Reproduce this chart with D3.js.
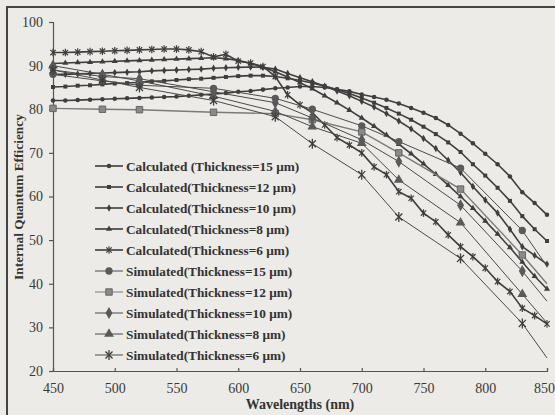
<!DOCTYPE html>
<html>
<head>
<meta charset="utf-8">
<script src="https://cdn.jsdelivr.net/npm/d3@7"></script>
<style>
  body { margin: 0; background: #ecebe7; }
  svg { display: block; font-family: 'Liberation Serif', 'DejaVu Serif', serif; }
</style>
</head>
<body>
<svg id="chart" width="555" height="415"></svg>
<script>
// DATA
const calcWave = d3.range(450, 851, 10);
const simWave = [450, 490, 520, 580, 630, 660, 700, 730, 780, 830, 850];

const calc15 = [82.0, 82.0, 82.1, 82.2, 82.3, 82.4, 82.5, 82.6, 82.7, 82.8, 82.9, 83.1, 83.3, 83.5, 83.7, 84.0, 84.2, 84.5, 84.8, 85.0, 85.2, 85.2, 85.0, 84.6, 84.1, 83.4, 82.8, 82.2, 81.3, 80.3, 79.2, 78.0, 76.4, 74.4, 72.2, 69.8, 67.4, 64.6, 61.0, 58.5, 55.8];
const calc12 = [85.1, 85.2, 85.4, 85.5, 85.7, 85.9, 86.0, 86.2, 86.4, 86.5, 86.7, 86.9, 87.0, 87.2, 87.4, 87.6, 87.7, 87.7, 87.5, 87.1, 86.6, 86.0, 85.3, 84.5, 83.6, 82.6, 81.5, 80.3, 79.0, 77.6, 76.0, 74.3, 72.4, 70.2, 67.4, 64.8, 62.0, 59.0, 55.5, 52.5, 49.8];
const calc10 = [88.0, 88.0, 88.1, 88.2, 88.3, 88.4, 88.5, 88.6, 88.8, 88.9, 89.0, 89.1, 89.2, 89.4, 89.5, 89.6, 89.7, 89.6, 89.2, 88.2, 87.2, 86.3, 85.3, 84.2, 83.1, 81.8, 80.5, 79.0, 77.3, 75.5, 73.3, 71.0, 68.3, 65.5, 62.3, 59.2, 56.2, 52.5, 48.5, 46.5, 44.5];
const calc8 = [90.5, 90.6, 90.7, 90.8, 90.9, 91.0, 91.1, 91.2, 91.3, 91.4, 91.5, 91.6, 91.7, 91.8, 91.6, 91.2, 90.5, 89.6, 88.6, 87.4, 86.1, 84.7, 83.1, 81.5, 79.8, 78.0, 76.1, 74.1, 72.0, 69.8, 67.5, 65.1, 62.6, 60.0, 57.3, 54.4, 51.4, 48.3, 45.0, 41.7, 38.8];
const calc6 = [93.0, 93.0, 93.1, 93.2, 93.3, 93.4, 93.5, 93.6, 93.7, 93.8, 93.8, 93.6, 93.2, 92.0, 92.6, 91.0, 90.6, 89.8, 87.5, 83.3, 81.0, 79.2, 76.4, 73.5, 71.8, 70.0, 66.8, 65.0, 61.1, 59.6, 56.2, 54.2, 51.2, 48.5, 46.2, 43.6, 40.5, 38.2, 34.4, 32.7, 30.8];

const sim15 = [88.0, 86.5, 85.5, 84.8, 82.5, 80.0, 76.2, 72.6, 66.5, 52.2, 44.0];
const sim12 = [80.2, 80.0, 79.9, 79.3, 79.0, 77.6, 74.8, 70.0, 61.7, 46.6, 40.0];
const sim10 = [89.0, 87.5, 87.0, 84.0, 81.5, 78.0, 73.0, 68.0, 58.0, 42.9, 36.0];
const sim8 = [90.0, 88.0, 86.5, 83.0, 79.5, 76.0, 72.2, 63.8, 54.0, 37.6, 31.0];
const sim6 = [89.0, 86.7, 85.0, 82.0, 78.3, 72.1, 65.0, 55.3, 45.8, 30.9, 23.0];

const seriesNames = [
  'Calculated (Thickness=15 \u03bcm)',
  'Calculated(Thickness=12 \u03bcm)',
  'Calculated(Thickness=10 \u03bcm)',
  'Calculated(Thickness=8 \u03bcm)',
  'Calculated(Thickness=6 \u03bcm)',
  'Simulated(Thickness=15 \u03bcm)',
  'Simulated(Thickness=12 \u03bcm)',
  'Simulated(Thickness=10 \u03bcm)',
  'Simulated(Thickness=8 \u03bcm)',
  'Simulated(Thickness=6 \u03bcm)',
];
const xTicks = [450, 500, 550, 600, 650, 700, 750, 800, 850];
const yTicks = [20, 30, 40, 50, 60, 70, 80, 90, 100];

const series = [
  { name: seriesNames[0], x: calcWave, y: calc15, sym: 'circle', sim: false },
  { name: seriesNames[1], x: calcWave, y: calc12, sym: 'square', sim: false },
  { name: seriesNames[2], x: calcWave, y: calc10, sym: 'diamond', sim: false },
  { name: seriesNames[3], x: calcWave, y: calc8, sym: 'triangle', sim: false },
  { name: seriesNames[4], x: calcWave, y: calc6, sym: 'star', sim: false },
  { name: seriesNames[5], x: simWave, y: sim15, sym: 'circle', sim: true },
  { name: seriesNames[6], x: simWave, y: sim12, sym: 'square', sim: true, light: true },
  { name: seriesNames[7], x: simWave, y: sim10, sym: 'diamond', sim: true },
  { name: seriesNames[8], x: simWave, y: sim8, sym: 'triangle', sim: true },
  { name: seriesNames[9], x: simWave, y: sim6, sym: 'star', sim: true },
];

//SETUP
const svg = d3.select('#chart');
const width = +svg.attr('width');
const height = +svg.attr('height');
const padding = { top: 22, right: 8, bottom: 44, left: 53 };
const ink = '#3e3e3e';

// frame of the scanned figure
svg.append('rect')
  .attr('x', 7).attr('y', 7)
  .attr('width', width + 10).attr('height', height + 10)
  .attr('fill', 'none')
  .attr('stroke', '#444')
  .attr('stroke-width', 2);

//SCALES
const xScale = d3.scaleLinear().domain([450, 850]).range([padding.left, width - padding.right]);
const yScale = d3.scaleLinear().domain([20, 100]).range([height - padding.bottom, padding.top]);

//AXES
const xAxis = d3.axisBottom(xScale).tickValues(xTicks).tickSize(-3).tickPadding(12).tickFormat(d3.format('d'));
const xAxisG = svg.append('g')
  .attr('transform', `translate(0,${height - padding.bottom})`)
  .call(xAxis);
// last label sits against the right edge, as in the scan
xAxisG.selectAll('.tick text').filter((d) => d === 850).attr('dx', -3);

const yAxis = d3.axisLeft(yScale).tickValues(yTicks).tickSize(4).tickPadding(6);
svg.append('g')
  .attr('transform', `translate(${padding.left},0)`)
  .call(yAxis);

svg.selectAll('.domain, .tick line').attr('stroke', '#555').attr('stroke-width', 1.2);
svg.selectAll('.tick text')
  .attr('fill', '#3a3a3a')
  .style('font-size', '14px')
  .style('font-family', "'Liberation Serif', serif");

//LABELS
svg.append('text')
  .attr('transform', 'rotate(-90)')
  .attr('x', -197)
  .attr('y', 23)
  .style('text-anchor', 'middle')
  .style('font-size', '13.4px')
  .style('font-weight', 'bold')
  .attr('fill', '#333')
  .text('Internal Quantum Efficiency');

svg.append('text')
  .attr('x', 300)
  .attr('y', 409)
  .style('text-anchor', 'middle')
  .style('font-size', '14px')
  .style('font-weight', 'bold')
  .attr('fill', '#333')
  .text('Wavelengths (nm)');

//MARKERS
const symbolTypes = {
  circle: d3.symbolCircle,
  square: d3.symbolSquare,
  diamond: d3.symbolDiamond,
  triangle: d3.symbolTriangle,
};

function drawMarker(g, s, cx, cy) {
  const size = s.sim ? 42 : 16;
  if (s.sym === 'star') {
    // X with a vertical stroke
    const r = s.sim ? 5 : 3.8;
    [Math.PI / 2, Math.PI / 4, (3 * Math.PI) / 4].forEach((a) => {
      g.append('line')
        .attr('x1', cx - r * Math.cos(a)).attr('y1', cy - r * Math.sin(a))
        .attr('x2', cx + r * Math.cos(a)).attr('y2', cy + r * Math.sin(a))
        .attr('stroke', ink)
        .attr('stroke-width', s.sim ? 1.3 : 1.2);
    });
    return;
  }
  g.append('path')
    .attr('d', d3.symbol().type(symbolTypes[s.sym]).size(size)())
    .attr('transform', `translate(${cx},${cy})`)
    .attr('fill', s.light ? '#8a8a8a' : s.sim ? '#5a5a5a' : ink)
    .attr('stroke', s.light ? '#555' : 'none')
    .attr('stroke-width', 0.8);
}

//LINES
const line = d3.line()
  .x((d) => xScale(d[0]))
  .y((d) => yScale(d[1]));

function lineColour(s) {
  if (s.light) return '#7a7a7a';
  return s.sim ? '#4a4a4a' : ink;
}

series.forEach((s) => {
  const pts = s.x.map((x, i) => [x, s.y[i]]);
  const g = svg.append('g');
  g.append('path')
    .attr('d', line(pts))
    .attr('fill', 'none')
    .attr('stroke', lineColour(s))
    .attr('stroke-width', s.light ? 1.4 : s.sim ? 1 : 1.6);
  const markPts = s.sim ? pts.slice(0, -1) : pts;
  markPts.forEach((p) => drawMarker(g, s, xScale(p[0]), yScale(p[1])));
});

//LEGEND
const legend = svg.append('g').attr('transform', 'translate(95,166)');
series.forEach((s, i) => {
  const row = legend.append('g').attr('transform', `translate(0,${i * 21})`);
  row.append('line')
    .attr('x1', 0).attr('x2', 28)
    .attr('stroke', lineColour(s))
    .attr('stroke-width', s.sim ? 1 : 1.6);
  drawMarker(row, s, 14, 0);
  row.append('text')
    .attr('x', 31)
    .attr('y', 4.5)
    .style('font-size', '13.3px')
    .style('font-weight', 'bold')
    .attr('fill', '#333')
    .text(s.name);
});
</script>
</body>
</html>
